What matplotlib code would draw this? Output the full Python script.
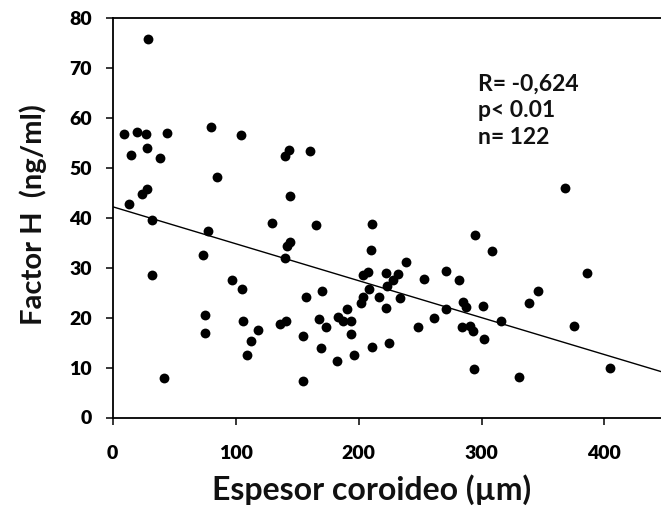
import numpy as np
import matplotlib
matplotlib.use("Agg")
import matplotlib.pyplot as plt

plt.rcParams['font.family'] = ['Lato', 'DejaVu Sans']

# espesor coroideo (um) y factor H (ng/ml)
espesor = [9.4, 20.0, 27.1, 43.9, 29.0, 14.6, 28.2, 38.7, 80.0, 104.1,
           85.1, 27.7, 23.8, 13.3, 143.5, 140.5, 160.5, 144.6, 32.0, 129.4,
           77.8, 144.3, 142.1, 140.2, 73.2, 31.7, 97.3, 105.4, 75.1, 75.1,
           106.3, 118.5, 112.3, 109.3, 136.1, 141.0, 42.0, 165.4, 211.0, 209.9,
           294.8, 238.6, 270.9, 282.0, 253.3, 208.0, 203.9, 222.4, 232.4, 228.3,
           208.8, 222.9, 216.7, 222.4, 233.8, 203.9, 202.0, 157.3, 170.0, 190.4,
           183.6, 187.6, 193.6, 168.1, 173.6, 193.6, 155.1, 169.5, 182.8, 196.6,
           211.0, 225.1, 248.7, 261.7, 270.9, 284.8, 287.2, 284.0, 290.7, 293.4,
           294.2, 154.6, 308.9, 385.7, 346.3, 339.0, 301.1, 316.0, 375.3, 302.4,
           330.6, 404.6, 367.6]
factor_h = [56.7, 57.2, 56.7, 56.9, 75.7, 52.6, 54.0, 51.9, 58.2, 56.6,
            48.2, 45.8, 44.8, 42.7, 53.6, 52.4, 53.4, 44.4, 39.5, 38.9,
            37.3, 35.1, 34.3, 32.0, 32.5, 28.6, 27.5, 25.7, 20.6, 17.0,
            19.4, 17.6, 15.4, 12.5, 18.8, 19.3, 8.0, 38.5, 38.8, 33.5,
            36.5, 31.1, 29.4, 27.5, 27.7, 29.1, 28.5, 28.9, 28.7, 27.6,
            25.8, 26.3, 24.1, 22.0, 23.9, 24.1, 22.9, 24.1, 25.3, 21.8,
            20.1, 19.3, 19.4, 19.8, 18.1, 16.8, 16.4, 13.9, 11.4, 12.6,
            14.1, 15.0, 18.1, 20.0, 21.8, 23.2, 22.1, 18.2, 18.4, 17.3,
            9.8, 7.3, 33.3, 29.0, 25.3, 22.9, 22.4, 19.4, 18.4, 15.8,
            8.1, 9.9, 46.0]

# recta de regresion
fit_intercept = 42.2
fit_slope = -0.074

stats_lines = ["R= -0,624", "p< 0.01", "n= 122"]
x_ticks = [0, 100, 200, 300, 400]
y_ticks = [0, 10, 20, 30, 40, 50, 60, 70, 80]

W, H = 661, 513
fig = plt.figure(figsize=(W / 100, H / 100), dpi=100)
ax = fig.add_axes([112.7 / W, (H - 417.5) / H, (W - 112.7) / W, (417.5 - 18) / H])

ax.scatter(espesor, factor_h, s=50, color='black', zorder=3, linewidths=0)
xl = np.array([0, 446])
ax.plot(xl, fit_intercept + fit_slope * xl, color='black', lw=1.0, zorder=2)

ax.set_xlim(0, 446)
ax.set_ylim(0, 80)
ax.set_xticks(x_ticks)
ax.set_yticks(y_ticks)
ax.spines['right'].set_visible(False)
for s in ['left', 'bottom', 'top']:
    ax.spines[s].set_linewidth(1.3)
ax.tick_params(axis='both', direction='out', length=5, width=1.1,
               labelsize=14, colors='black')
ax.tick_params(axis='x', pad=15)
ax.tick_params(axis='y', pad=10)
for lab in ax.get_xticklabels() + ax.get_yticklabels():
    lab.set_fontweight('heavy')

# texto estadistico
for i, t in enumerate(stats_lines):
    fig.text(478 / W, 1 - (84 + i * 27) / H, t, fontsize=16.5, fontweight='bold',
             ha='left', va='center', color='#111111')

fig.text(372 / W, 1 - 500 / H, 'Espesor coroideo (µm)', fontsize=23,
         fontweight='bold', ha='center', va='baseline', color='#111111')
fig.text(33 / W, 1 - 215 / H, 'Factor H  (ng/ml)', fontsize=21,
         fontweight='bold', ha='center', va='center', rotation=90, color='#111111')

fig.savefig('out.png', dpi=100)
